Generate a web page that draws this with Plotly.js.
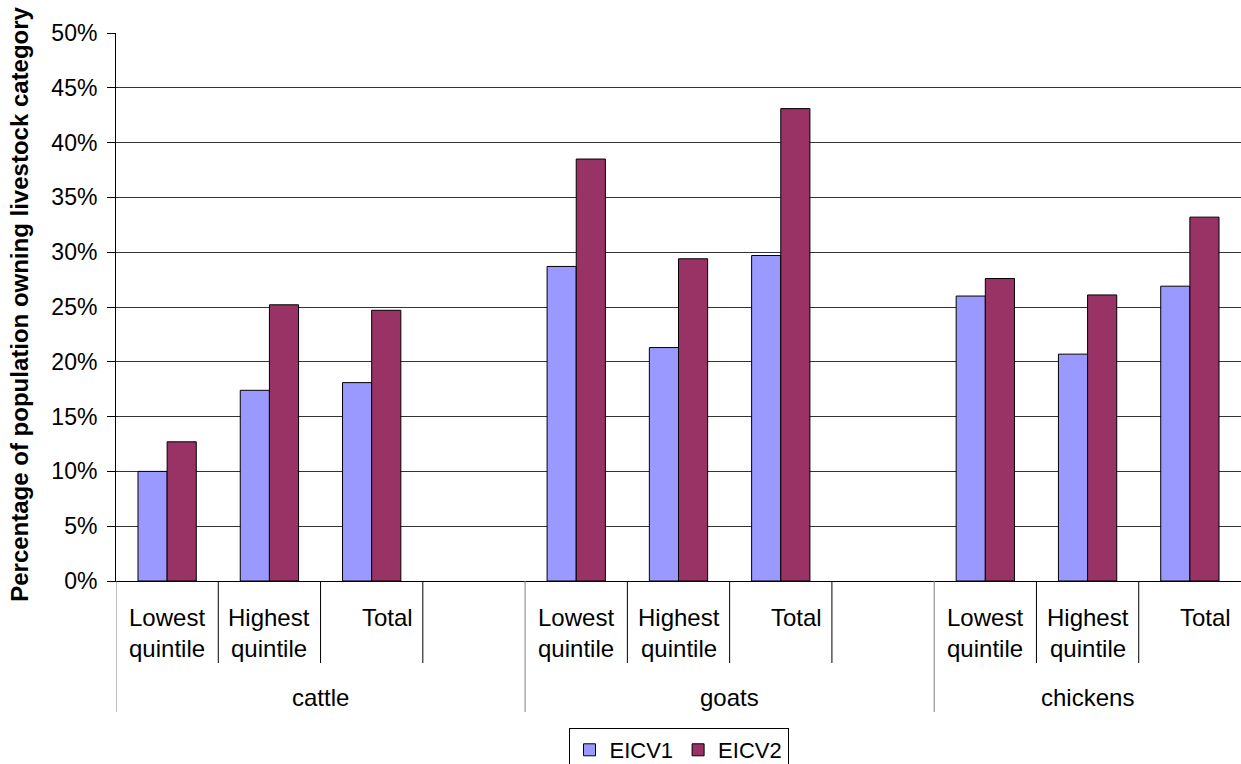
<!DOCTYPE html>
<html>
<head>
<meta charset="utf-8">
<script src="https://cdn.plot.ly/plotly-3.0.1.min.js"></script>
<style>html,body{margin:0;padding:0;background:#fff;overflow:hidden;}#chart{width:1241px;height:764px;}</style>
</head>
<body>
<div id="chart"></div>
<script>
// ---- data ----
const groups = ["cattle", "cattle", "cattle", "cattle",
                "goats", "goats", "goats", "goats",
                "chickens", "chickens", "chickens"];
const categories = ["Lowest quintile", "Highest quintile", "Total", "",
                    "Lowest quintile", "Highest quintile", "Total", "",
                    "Lowest quintile", "Highest quintile", "Total"];
const eicv1 = [10.0, 17.4, 18.1, null, 28.7, 21.3, 29.7, null, 26.0, 20.7, 26.9];
const eicv2 = [12.7, 25.2, 24.7, null, 38.5, 29.4, 43.1, null, 27.6, 26.1, 33.2];
const seriesNames = ["EICV1", "EICV2"];
const yTicks = [0, 5, 10, 15, 20, 25, 30, 35, 40, 45, 50];
const yTickText = ["0%", "5%", "10%", "15%", "20%", "25%", "30%", "35%", "40%", "45%", "50%"];
const yTitle = "Percentage of population owning livestock category";

// ---- build ----
const keys = categories.map((c, i) => groups[i] + "|" + c);
const FONT = "Arial, 'Liberation Sans', sans-serif";

const traces = [
  {type: "bar", name: seriesNames[0], x: keys, y: eicv1,
   marker: {color: "#9999FF", line: {color: "#000", width: 1}}},
  {type: "bar", name: seriesNames[1], x: keys, y: eicv2,
   marker: {color: "#993366", line: {color: "#000", width: 1}}}
];

const annotations = [];
const shapes = [];
const lab = {size: 24, color: "#000", family: FONT};

categories.forEach((c, i) => {
  if (!c) return;
  const words = c.split(" ");
  if (words.length === 1) {
    annotations.push({xref: "x", yref: "paper", x: i + 0.5, y: 0, xanchor: "right", yanchor: "middle",
      xshift: -8, yshift: -36, text: words[0], showarrow: false, font: lab});
  } else {
    annotations.push({xref: "x", yref: "paper", x: i, y: 0, xanchor: "center", yanchor: "middle",
      yshift: -36, text: words[0], showarrow: false, font: lab});
    annotations.push({xref: "x", yref: "paper", x: i, y: 0, xanchor: "center", yanchor: "middle",
      yshift: -67, text: words.slice(1).join(" "), showarrow: false, font: lab});
  }
});

// inner dividers & group dividers
const H = 548;
for (let i = 0; i < categories.length; i++) {
  const isGroupStart = (i === 0) || groups[i] !== groups[i - 1];
  shapes.push({type: "line", xref: "x", yref: "paper", x0: i - 0.5, x1: i - 0.5,
    y0: 0, y1: isGroupStart ? -131 / H : -82 / H,
    line: {color: isGroupStart ? "#808080" : "#000", width: 1}});
}
// group labels
const uniq = [...new Set(groups)];
uniq.forEach(g => {
  const idx = groups.map((v, i) => v === g ? i : -1).filter(i => i >= 0);
  const center = (idx[0] + idx[idx.length - 1]) / 2;
  annotations.push({xref: "x", yref: "paper", x: center, y: 0, xanchor: "center", yanchor: "middle",
    yshift: -116, text: g, showarrow: false, font: lab});
});
// y title
annotations.push({xref: "paper", yref: "paper", x: -96 / 1125, y: 0.504, xanchor: "center", yanchor: "middle",
  textangle: -90, text: "<b>" + yTitle + "</b>", showarrow: false,
  font: {size: 24, family: FONT, color: "#000"}});

const layout = {
  width: 1241, height: 764,
  margin: {l: 116, r: 0, t: 33, b: 183, pad: 0, autoexpand: false},
  paper_bgcolor: "#fff", plot_bgcolor: "#fff",
  font: {family: FONT, color: "#000", size: 22},
  barmode: "group", bargap: 0.43, bargroupgap: 0,
  showlegend: true,
  legend: {orientation: "h", x: 0.5, xanchor: "center", y: -147 / H, yanchor: "top",
    bordercolor: "#000", borderwidth: 1, bgcolor: "#fff", font: {size: 22, family: FONT},
    traceorder: "normal", itemwidth: 30},
  xaxis: {type: "category", categoryorder: "array", categoryarray: keys,
    showticklabels: false, ticks: "", showgrid: false, zeroline: false,
    showline: true, linecolor: "#000", linewidth: 1, range: [-0.5, categories.length - 0.5], fixedrange: true},
  yaxis: {range: [0, 50], tickvals: yTicks, ticktext: yTickText, ticks: "outside", ticklen: 8,
    tickcolor: "#000", showline: true, linecolor: "#000", linewidth: 1,
    showgrid: true, gridcolor: "#333", gridwidth: 1, zeroline: false,
    tickfont: {size: 23, family: FONT}, ticklabelstandoff: 5},
  annotations: annotations,
  shapes: shapes
};

Plotly.newPlot("chart", traces, layout, {displayModeBar: false, staticPlot: true});
</script>
</body>
</html>
